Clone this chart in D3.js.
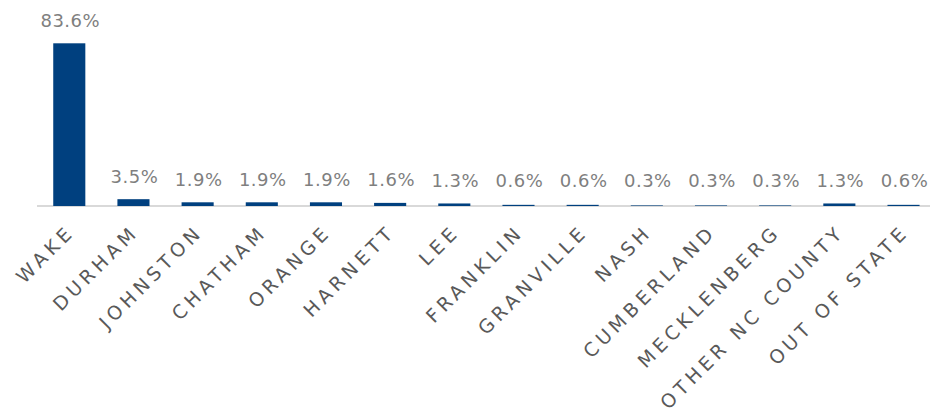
<!DOCTYPE html>
<html><head><meta charset="utf-8">
<script src="https://cdn.jsdelivr.net/npm/d3@7"></script>
<style>body{margin:0;background:#fff}</style>
</head><body><svg id="c" width="930" height="418"></svg>
<script>
const categories = ["WAKE","DURHAM","JOHNSTON","CHATHAM","ORANGE","HARNETT","LEE","FRANKLIN","GRANVILLE","NASH","CUMBERLAND","MECKLENBERG","OTHER NC COUNTY","OUT OF STATE"];
const values = [83.6,3.5,1.9,1.9,1.9,1.6,1.3,0.6,0.6,0.3,0.3,0.3,1.3,0.6];
const labels = ["83.6%","3.5%","1.9%","1.9%","1.9%","1.6%","1.3%","0.6%","0.6%","0.3%","0.3%","0.3%","1.3%","0.6%"];

const svg = d3.select("#c");
const x = d3.scaleBand().domain(categories).range([37.2, 935.6]).paddingInner(0.5).paddingOuter(0.25);
const y = d3.scaleLinear().domain([0, 83.6]).range([206, 43.3]);

svg.append("line").attr("x1",37).attr("x2",930).attr("y1",206).attr("y2",206)
  .attr("stroke","#d9d9d9").attr("stroke-width",2);

svg.selectAll("rect.bar").data(values).join("rect").attr("class","bar")
  .attr("x",(d,i)=>x(categories[i])).attr("width",x.bandwidth())
  .attr("y",d=>y(d)).attr("height",d=>y(0)-y(d)).attr("fill","#00407f");

svg.selectAll("text.val").data(values).join("text").attr("class","val")
  .attr("x",(d,i)=>x(categories[i])+x.bandwidth()/2+1)
  .attr("y",d=>Math.min(y(d)-16.5, 187))
  .attr("text-anchor","middle")
  .attr("font-family","DejaVu Sans").attr("font-size","18px").attr("letter-spacing","0.5px")
  .attr("fill","#7f7f7f").text((d,i)=>labels[i]);

svg.selectAll("text.cat").data(categories).join("text").attr("class","cat")
  .attr("text-anchor","end")
  .attr("transform",d=>`translate(${x(d)+x.bandwidth()/2+6.5},${233}) rotate(-45)`)
  .attr("font-family","DejaVu Sans").attr("font-size","19px").attr("letter-spacing","4.4px")
  .attr("fill","#595959").text(d=>d);
</script></body></html>
